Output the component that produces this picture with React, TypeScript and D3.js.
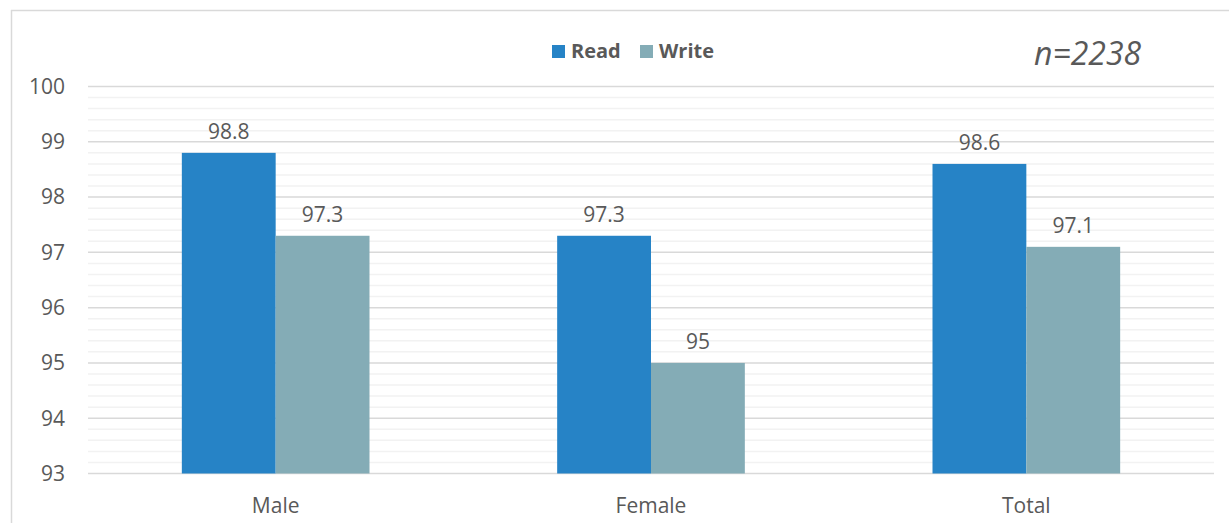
import { useMemo } from "react";
import * as d3 from "d3";

const WIDTH = 1229;
const HEIGHT = 523;

const CATEGORIES = ["Male", "Female", "Total"];
const SERIES = ["Read", "Write"];
const READ_VALUES = [98.8, 97.3, 98.6];
const WRITE_VALUES = [97.3, 95, 97.1];
const Y_TICKS = [93, 94, 95, 96, 97, 98, 99, 100];
const SAMPLE_LABEL = "n=2238";

const COLORS = ["#2683c6", "#84acb6"];
const TEXT = "#595959";
const FONT = "'Open Sans', 'Noto Sans', sans-serif";

const PLOT = { left: 88, right: 1214, top: 86.5, bottom: 473.5 };

export default function App() {
  const x = useMemo(
    () => d3.scaleBand<string>().domain(CATEGORIES).range([PLOT.left, PLOT.right]).padding(0),
    []
  );
  const y = useMemo(
    () => d3.scaleLinear().domain([93, 100]).range([PLOT.bottom, PLOT.top]),
    []
  );
  const inner = useMemo(
    () => d3.scaleBand<string>().domain(SERIES).range([0, x.bandwidth() * 0.5]).padding(0),
    [x]
  );

  const values = [READ_VALUES, WRITE_VALUES];
  const minor = d3.range(93, 100.001, 0.2).filter((v) => Math.abs(v - Math.round(v)) > 0.01);

  return (
    <svg
      width={WIDTH}
      height={HEIGHT}
      style={{ position: "absolute", left: 0, top: 0, background: "#fff" }}
      fontFamily={FONT}
    >
      {/* outer frame */}
      <line x1={11} x2={WIDTH} y1={10.5} y2={10.5} stroke="#d9d9d9" strokeWidth={1.5} />
      <line x1={11.5} x2={11.5} y1={10} y2={HEIGHT} stroke="#d9d9d9" strokeWidth={1.5} />

      {/* minor gridlines */}
      {minor.map((v) => (
        <line key={`m${v}`} x1={PLOT.left} x2={PLOT.right} y1={y(v)} y2={y(v)} stroke="#f2f2f2" strokeWidth={1.5} />
      ))}
      {/* major gridlines */}
      {Y_TICKS.map((v) => (
        <line key={`g${v}`} x1={PLOT.left} x2={PLOT.right} y1={y(v)} y2={y(v)} stroke="#d9d9d9" strokeWidth={1.5} />
      ))}

      {/* y tick labels */}
      {Y_TICKS.map((v) => (
        <text key={`t${v}`} x={65} y={y(v)} dy="0.35em" textAnchor="end" fontSize={21} fill={TEXT}>
          {v}
        </text>
      ))}

      {/* bars */}
      {CATEGORIES.map((c, i) => {
        const gx = (x(c) ?? 0) + x.bandwidth() * 0.25;
        return (
          <g key={c} transform={`translate(${gx},0)`}>
            {SERIES.map((s, j) => {
              const v = values[j][i];
              const bx = inner(s) ?? 0;
              return (
                <g key={s}>
                  <rect
                    x={bx}
                    y={y(v)}
                    width={inner.bandwidth()}
                    height={y(93) - y(v)}
                    fill={COLORS[j]}
                  />
                  <text
                    x={bx + inner.bandwidth() / 2}
                    y={y(v) - 14}
                    textAnchor="middle"
                    fontSize={21}
                    fill={TEXT}
                  >
                    {v}
                  </text>
                </g>
              );
            })}
          </g>
        );
      })}

      {/* category labels */}
      {CATEGORIES.map((c) => (
        <text
          key={`c${c}`}
          x={(x(c) ?? 0) + x.bandwidth() / 2}
          y={513}
          textAnchor="middle"
          fontSize={21}
          fill={TEXT}
        >
          {c}
        </text>
      ))}

      {/* legend */}
      {SERIES.map((s, j) => {
        const lx = j === 0 ? 552 : 640;
        return (
          <g key={`l${s}`}>
            <rect x={lx} y={45} width={13} height={13} fill={COLORS[j]} />
            <text x={lx + 19} y={58} fontSize={20} fontWeight={700} fill={TEXT}>
              {s}
            </text>
          </g>
        );
      })}

      <text x={1034} y={65} fontSize={32} fontStyle="italic" fill={TEXT}>
        {SAMPLE_LABEL}
      </text>
    </svg>
  );
}
